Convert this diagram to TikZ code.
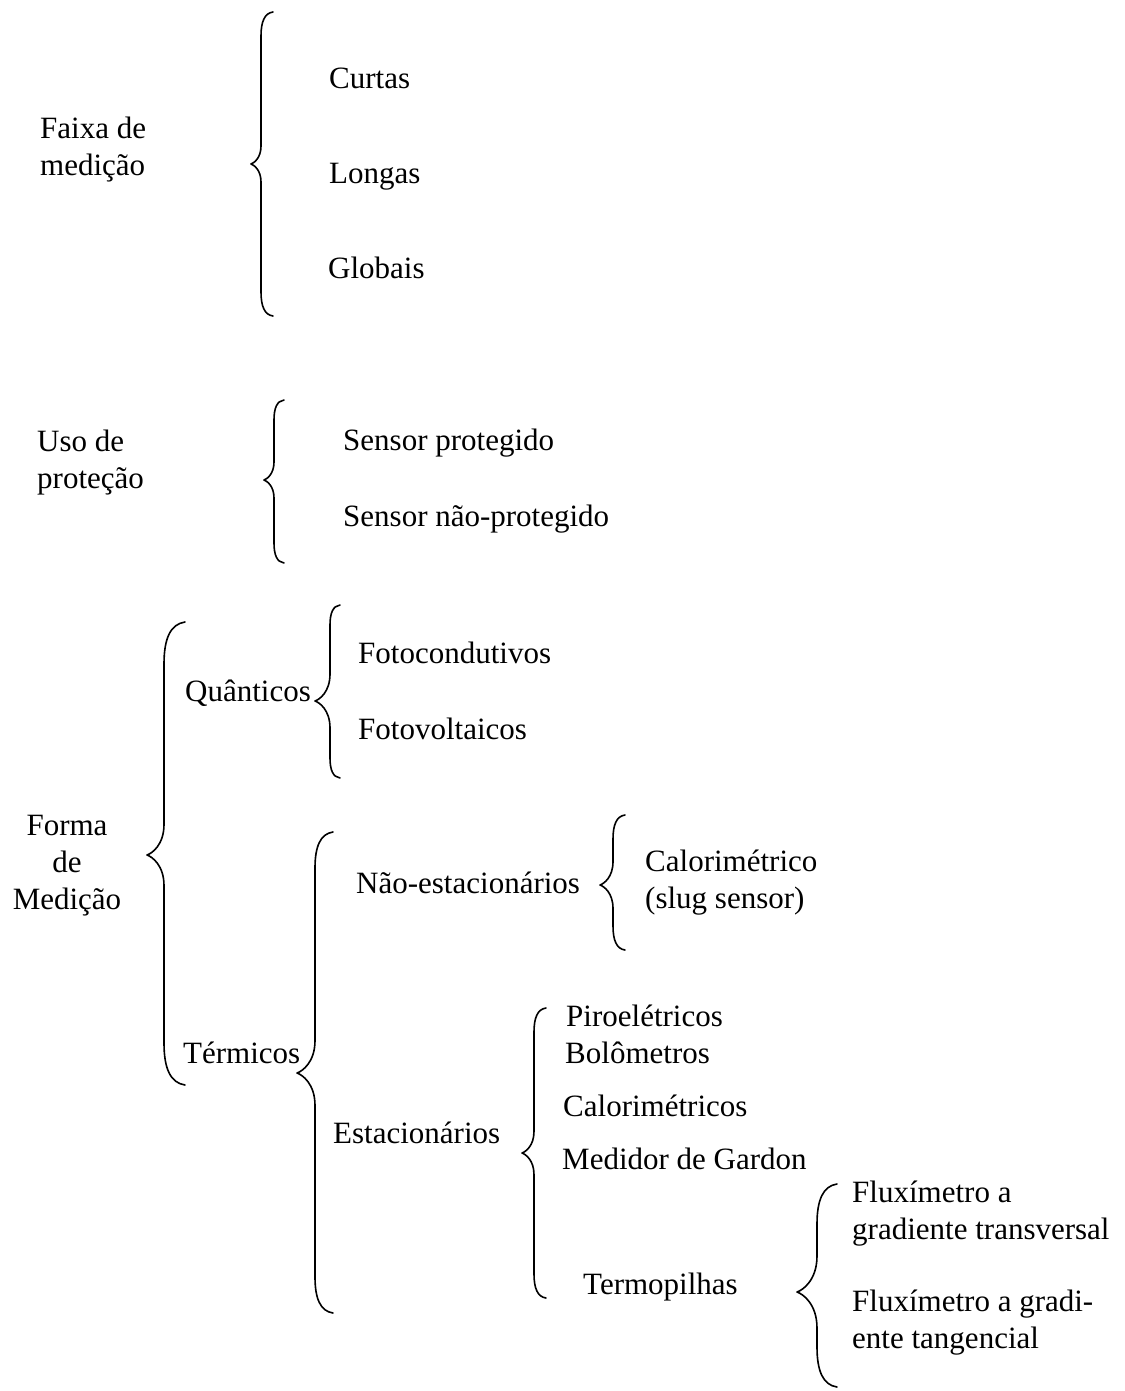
\documentclass[tikz,border=0pt]{standalone}
\usepackage{fontspec}
\setmainfont{Liberation Serif}
\usepackage{tikz}
\usetikzlibrary{positioning}

% left brace: tip x, line x, top y, cusp y, bottom y, curl
\newcommand{\chave}[6]{%
  \draw[chave] ({#2+#6},#3) .. controls ({#2+0.3*#6},{#3+0.1*#6}) and (#2,{#3+0.8*#6}) .. (#2,{#3+2*#6})
    -- (#2,{#4-1.8*(#2-#1)}) .. controls (#2,{#4-0.6*(#2-#1)}) and ({#1+0.3*(#2-#1)},{#4-0.1*(#2-#1)}) .. (#1,#4)
    .. controls ({#1+0.3*(#2-#1)},{#4+0.1*(#2-#1)}) and (#2,{#4+0.6*(#2-#1)}) .. (#2,{#4+1.8*(#2-#1)})
    -- (#2,{#5-2*#6}) .. controls (#2,{#5-0.8*#6}) and ({#2+0.3*#6},{#5-0.1*#6}) .. ({#2+#6},#5);}

\begin{document}
\begin{tikzpicture}[
    x=1pt, y=-1pt,
    termo/.style={font=\fontsize{31}{37}\selectfont, inner sep=0pt, anchor=base west, align=left},
    grupo/.style={termo, anchor=base, align=center},
    chave/.style={line width=1.6pt, line cap=round, line join=round}
]
    \useasboundingbox (0,0) rectangle (1124,1391);

    % Nodes (multi-line ones sit on their last line)
    \node[termo] (faixa) at (40,176) {Faixa de\\medição};
    \node[termo] (curtas) at (329,89) {Curtas};
    \node[termo] (longas) at (329,184) {Longas};
    \node[termo] (globais) at (328,278) {Globais};

    \node[termo] (uso) at (37,488) {Uso de\\proteção};
    \node[termo] (prot) at (343,450) {Sensor protegido};
    \node[termo] (naoprot) at (343,526) {Sensor não-protegido};

    \node[grupo] (forma) at (67,909) {Forma\\de\\Medição};
    \node[termo] (quant) at (185,701) {Quânticos};
    \node[termo] (fcond) at (358,663) {Fotocondutivos};
    \node[termo] (fvolt) at (358,739) {Fotovoltaicos};

    \node[termo] (term) at (183,1063) {Térmicos};
    \node[termo] (naoest) at (356,893) {Não-estacionários};
    \node[termo] (calor) at (645,908) {Calorimétrico\\(slug sensor)};

    \node[termo] (estac) at (333,1143) {Estacionários};
    \node[termo] (piro) at (566,1026) {Piroelétricos};
    \node[termo] (bolo) at (565,1063) {Bolômetros};
    \node[termo] (calos) at (563,1116) {Calorimétricos};
    \node[termo] (gardon) at (562,1169) {Medidor de Gardon};

    \node[termo] (termop) at (583,1294) {Termopilhas};
    \node[termo] (fluxa) at (852,1239) {Fluxímetro a\\gradiente transversal};
    \node[termo] (fluxb) at (852,1348) {Fluxímetro a gradi-\\ente tangencial};

    % Braces
    \chave{251}{261}{12}{164}{316}{12}
    \chave{264}{274}{400}{480}{563}{10}
    \chave{147}{164}{622}{855}{1085}{21}
    \chave{315}{330}{605}{701}{778}{10}
    \chave{297}{315}{832}{1073}{1313}{18}
    \chave{600}{613}{815}{885}{950}{12}
    \chave{522}{534}{1008}{1153}{1298}{12}
    \chave{797}{817}{1184}{1292}{1387}{20}
\end{tikzpicture}
\end{document}
